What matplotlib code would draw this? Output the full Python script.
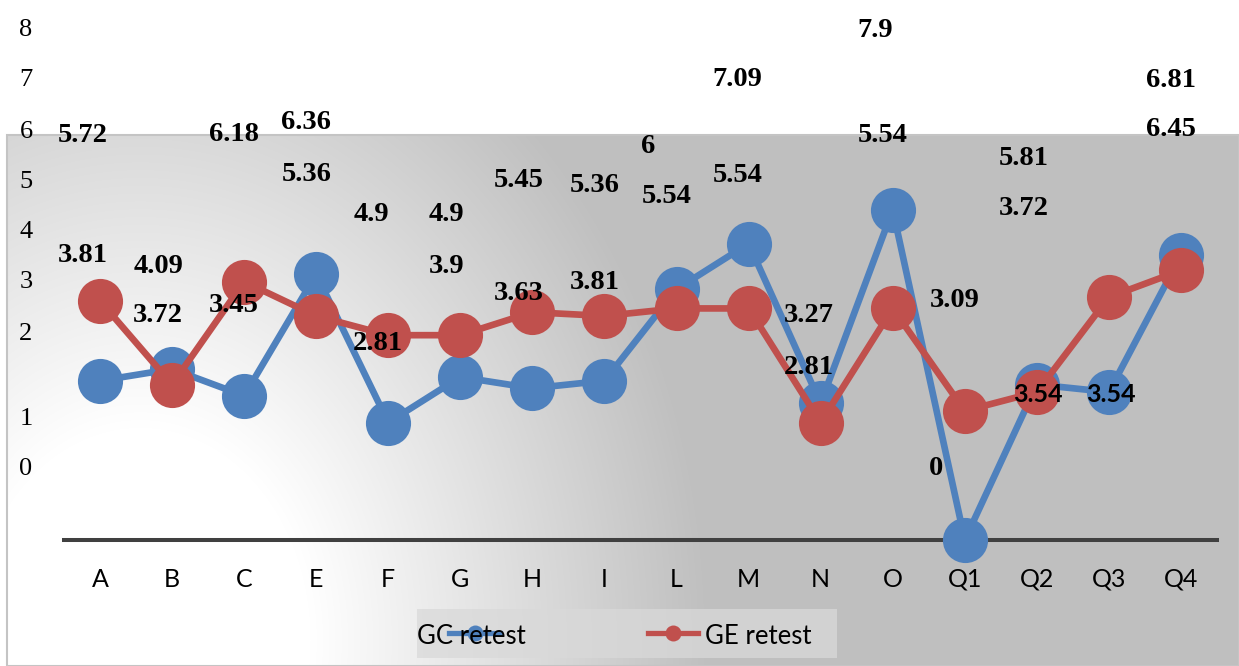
import numpy as np
import matplotlib
matplotlib.use("Agg")
import matplotlib.pyplot as plt
from matplotlib.patches import Rectangle
from matplotlib.lines import Line2D

# ---- data ----
categories = ["A", "B", "C", "E", "F", "G", "H", "I", "L", "M", "N", "O",
              "Q1", "Q2", "Q3", "Q4"]
gc_retest = [3.81, 4.09, 3.45, 6.36, 2.81, 3.9, 3.63, 3.81, 6, 7.09, 3.27,
             7.9, 0, 3.72, 3.54, 6.81]
ge_retest = [5.72, 3.72, 6.18, 5.36, 4.9, 4.9, 5.45, 5.36, 5.54, 5.54, 2.81,
             5.54, 3.09, 3.54, 5.81, 6.45]
side_numbers = [8, 7, 6, 5, 4, 3, 2, 1, 0]

# ---- layout (pixels) ----
W, H = 1239, 666
side_number_y = [27, 77, 129, 179, 229, 279, 331, 416, 466]
# data-label offsets from each marker (dx right, dy up), label centre
gc_label_off = [(-17, 129), (-14, 106), (-10, 94), (-10, 155), (-10, 82),
                (-14, 114), (-14, 98), (-10, 102), (-28, 146), (-11, 167),
                (-12, 91), (-18, 183), (-29, 75), (-13, 179), (2, -1),
                (-10, 178)]
ge_label_off = [(-17, 169), (-14, 72), (-10, 150), (-10, 145), (-17, 124),
                (-14, 124), (-14, 135), (-10, 134), (-10, 115), (-11, 136),
                (-12, 58), (-10, 176), (-10, 114), (1, -1), (-85, 142),
                (-10, 144)]
gc_sans_labels = {14}
ge_sans_labels = {13}

BLUE = "#4f81bd"
RED = "#c0504d"
SERIF = "Liberation Serif"
SANS = "Lato"


def fx(x):
    return x / W


def fy(y):
    return 1 - y / H


fig = plt.figure(figsize=(W / 100, H / 100), dpi=100)
fig.patch.set_facecolor("white")

# ---- background panel with grey gradient, lightest at lower left ----
yy, xx = np.mgrid[0:H, 0:W].astype(float)
r = np.hypot((xx - 140) * 1.0, (yy - 640) * 0.8)
t = np.clip((r - 170) / 400, 0, 1)
g = (255 - 64 * t) / 255
img = np.dstack([g, g, g])
outside = (xx < 7) | (yy < 135)
img[outside] = 1.0
fig.figimage(img, 0, 0, zorder=0, origin="upper")
fig.add_artist(Rectangle((fx(7), 0), 1 - fx(7), fy(135),
                         transform=fig.transFigure, fill=False,
                         edgecolor="#c4c4c4", linewidth=1.5, zorder=1))

# ---- plot axes ----
px_per_unit = 41.8
ax = fig.add_axes([fx(64), fy(540), fx(1217) - fx(64), 8 * px_per_unit / H])
ax.set_zorder(3)
ax.patch.set_visible(False)
ax.set_xlim(-0.5, len(categories) - 0.5)
ax.set_ylim(0, 8)
for s in ("top", "right", "left"):
    ax.spines[s].set_visible(False)
ax.spines["bottom"].set_color("#404040")
ax.spines["bottom"].set_linewidth(2.9)
ax.spines["bottom"].set_zorder(2)
ax.set_yticks([])
ax.set_xticks(range(len(categories)))
ax.set_xticklabels(categories, fontfamily=SANS, fontsize=18)
ax.tick_params(axis="x", length=0, pad=20)

x = np.arange(len(categories))
ax.plot(x, gc_retest, color=BLUE, lw=4.8, marker="o", ms=32.5, mew=0,
        clip_on=False, zorder=3)
ax.plot(x, ge_retest, color=RED, lw=4.8, marker="o", ms=32.5, mew=0,
        clip_on=False, zorder=4)


def put_labels(values, offsets, sans_set):
    for i, (v, (dx, dy)) in enumerate(zip(values, offsets)):
        if i in sans_set:
            kw = dict(fontfamily=SANS, fontsize=18, fontweight="bold")
            half = 8.5
        else:
            kw = dict(fontfamily=SERIF, fontsize=20.5, fontweight="bold")
            half = 9.8
        ax.annotate(f"{v:g}", xy=(i, v), xytext=(dx, dy - half),
                    textcoords="offset pixels", ha="center", va="baseline",
                    color="black", zorder=6, annotation_clip=False, **kw)


put_labels(gc_retest, gc_label_off, gc_sans_labels)
put_labels(ge_retest, ge_label_off, ge_sans_labels)

# ---- numbers down the left side ----
for n, y in zip(side_numbers, side_number_y):
    fig.text(fx(26), fy(y + 9), str(n), ha="center", va="baseline",
             fontfamily=SERIF, fontsize=19, color="black", zorder=6)

# ---- legend ----
fig.add_artist(Rectangle((fx(417), fy(658)), fx(837) - fx(417), 49 / H,
                         transform=fig.transFigure, facecolor="#d9d9d9",
                         alpha=0.75, edgecolor="none", zorder=5))
for x0, x1, xm, col in ((449, 500, 475, BLUE), (648, 698, 673, RED)):
    fig.add_artist(Line2D([fx(x0), fx(x1)], [fy(633), fy(633)],
                          transform=fig.transFigure, color=col, lw=3.8,
                          zorder=6))
    fig.add_artist(Line2D([fx(xm)], [fy(633)], transform=fig.transFigure,
                          color=col, marker="o", ms=11.5, mew=0, zorder=6))
fig.text(fx(417), fy(643.5), "GC retest", ha="left", va="baseline",
         fontfamily=SANS, fontsize=18.5, color="black", zorder=8)
fig.text(fx(705), fy(643.5), "GE retest", ha="left", va="baseline",
         fontfamily=SANS, fontsize=18.5, color="black", zorder=8)

fig.savefig("out.png", dpi=100)
